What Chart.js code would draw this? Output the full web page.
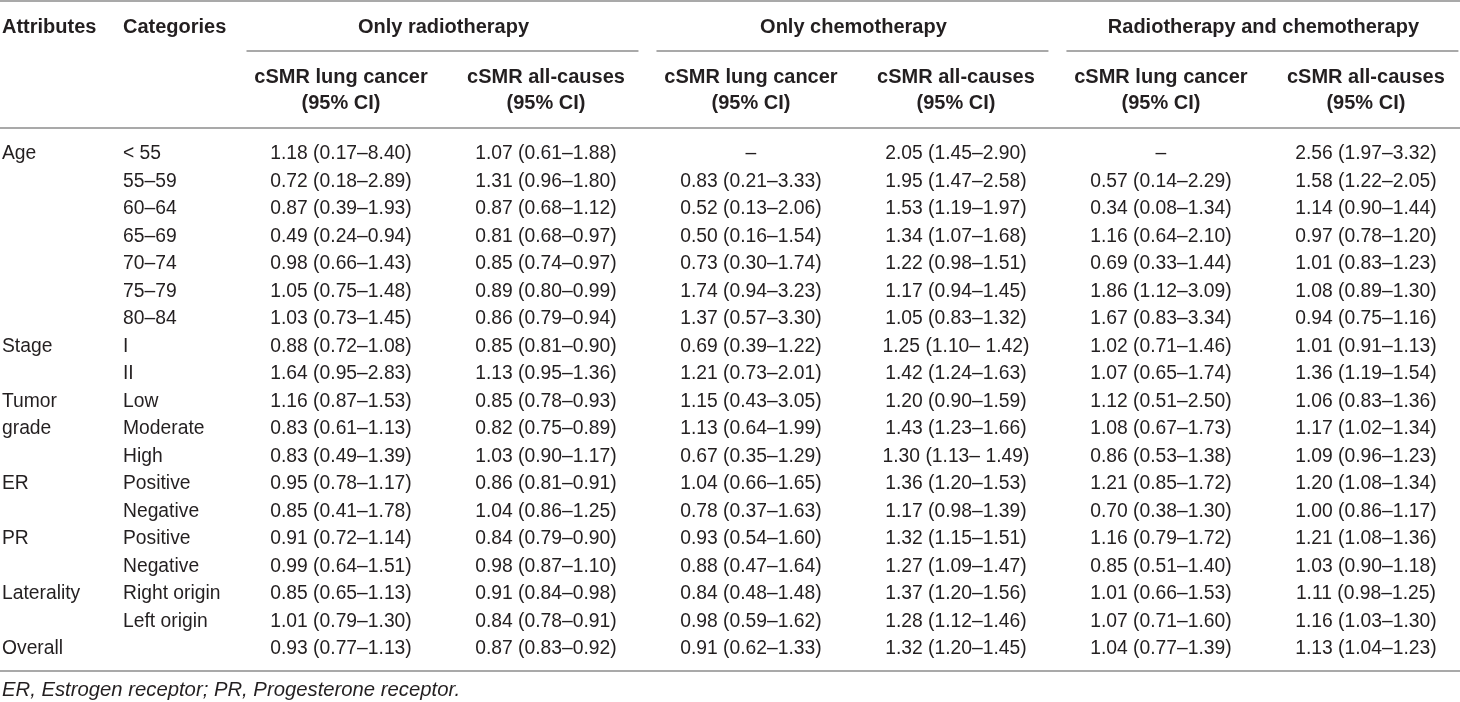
<!DOCTYPE html>
<html>
<head>
<meta charset="utf-8">
<script src="https://cdn.jsdelivr.net/npm/chart.js@4"></script>
<style>
  html, body { margin: 0; padding: 0; background: #fff; }
  #wrap { width: 1460px; height: 702px; }
</style>
</head>
<body>
<div id="wrap"><canvas id="tbl" width="1460" height="702"></canvas></div>
<script>
// table content
const attributes = ["Age", "", "", "", "", "", "", "Stage", "", "Tumor", "grade", "", "ER", "", "PR", "", "Laterality", "", "Overall"];
const categories = ["< 55", "55–59", "60–64", "65–69", "70–74", "75–79", "80–84", "I", "II", "Low", "Moderate", "High",
    "Positive", "Negative", "Positive", "Negative", "Right origin", "Left origin", ""];

const groups = ["Only radiotherapy", "Only chemotherapy", "Radiotherapy and chemotherapy"];
const subHeaders = ["cSMR lung cancer", "cSMR all-causes"];

const radioLung = ["1.18 (0.17–8.40)", "0.72 (0.18–2.89)", "0.87 (0.39–1.93)", "0.49 (0.24–0.94)", "0.98 (0.66–1.43)",
    "1.05 (0.75–1.48)", "1.03 (0.73–1.45)", "0.88 (0.72–1.08)", "1.64 (0.95–2.83)", "1.16 (0.87–1.53)",
    "0.83 (0.61–1.13)", "0.83 (0.49–1.39)", "0.95 (0.78–1.17)", "0.85 (0.41–1.78)", "0.91 (0.72–1.14)",
    "0.99 (0.64–1.51)", "0.85 (0.65–1.13)", "1.01 (0.79–1.30)", "0.93 (0.77–1.13)"];
const radioAll = ["1.07 (0.61–1.88)", "1.31 (0.96–1.80)", "0.87 (0.68–1.12)", "0.81 (0.68–0.97)", "0.85 (0.74–0.97)",
    "0.89 (0.80–0.99)", "0.86 (0.79–0.94)", "0.85 (0.81–0.90)", "1.13 (0.95–1.36)", "0.85 (0.78–0.93)",
    "0.82 (0.75–0.89)", "1.03 (0.90–1.17)", "0.86 (0.81–0.91)", "1.04 (0.86–1.25)", "0.84 (0.79–0.90)",
    "0.98 (0.87–1.10)", "0.91 (0.84–0.98)", "0.84 (0.78–0.91)", "0.87 (0.83–0.92)"];
const chemoLung = ["–", "0.83 (0.21–3.33)", "0.52 (0.13–2.06)", "0.50 (0.16–1.54)", "0.73 (0.30–1.74)",
    "1.74 (0.94–3.23)", "1.37 (0.57–3.30)", "0.69 (0.39–1.22)", "1.21 (0.73–2.01)", "1.15 (0.43–3.05)",
    "1.13 (0.64–1.99)", "0.67 (0.35–1.29)", "1.04 (0.66–1.65)", "0.78 (0.37–1.63)", "0.93 (0.54–1.60)",
    "0.88 (0.47–1.64)", "0.84 (0.48–1.48)", "0.98 (0.59–1.62)", "0.91 (0.62–1.33)"];
const chemoAll = ["2.05 (1.45–2.90)", "1.95 (1.47–2.58)", "1.53 (1.19–1.97)", "1.34 (1.07–1.68)", "1.22 (0.98–1.51)",
    "1.17 (0.94–1.45)", "1.05 (0.83–1.32)", "1.25 (1.10– 1.42)", "1.42 (1.24–1.63)", "1.20 (0.90–1.59)",
    "1.43 (1.23–1.66)", "1.30 (1.13– 1.49)", "1.36 (1.20–1.53)", "1.17 (0.98–1.39)", "1.32 (1.15–1.51)",
    "1.27 (1.09–1.47)", "1.37 (1.20–1.56)", "1.28 (1.12–1.46)", "1.32 (1.20–1.45)"];
const bothLung = ["–", "0.57 (0.14–2.29)", "0.34 (0.08–1.34)", "1.16 (0.64–2.10)", "0.69 (0.33–1.44)",
    "1.86 (1.12–3.09)", "1.67 (0.83–3.34)", "1.02 (0.71–1.46)", "1.07 (0.65–1.74)", "1.12 (0.51–2.50)",
    "1.08 (0.67–1.73)", "0.86 (0.53–1.38)", "1.21 (0.85–1.72)", "0.70 (0.38–1.30)", "1.16 (0.79–1.72)",
    "0.85 (0.51–1.40)", "1.01 (0.66–1.53)", "1.07 (0.71–1.60)", "1.04 (0.77–1.39)"];
const bothAll = ["2.56 (1.97–3.32)", "1.58 (1.22–2.05)", "1.14 (0.90–1.44)", "0.97 (0.78–1.20)", "1.01 (0.83–1.23)",
    "1.08 (0.89–1.30)", "0.94 (0.75–1.16)", "1.01 (0.91–1.13)", "1.36 (1.19–1.54)", "1.06 (0.83–1.36)",
    "1.17 (1.02–1.34)", "1.09 (0.96–1.23)", "1.20 (1.08–1.34)", "1.00 (0.86–1.17)", "1.21 (1.08–1.36)",
    "1.03 (0.90–1.18)", "1.11 (0.98–1.25)", "1.16 (1.03–1.30)", "1.13 (1.04–1.23)"];

const footnote = "ER, Estrogen receptor; PR, Progesterone receptor.";

const columns = [radioLung, radioAll, chemoLung, chemoAll, bothLung, bothAll];

const FONT = "'Liberation Sans', Arial, Helvetica, sans-serif";
const TEXT = "#231f20";
const RULE = "#8c8c8c";

// one invisible point per cell, text is painted at the point position
const datasets = columns.map((col, c) => ({
    label: "col" + c,
    data: col.map((txt, r) => ({ x: c, y: r })),
    pointRadius: 0,
    pointHoverRadius: 0,
    showLine: false
}));

const tablePlugin = {
    id: "tablePlugin",
    afterDatasetsDraw(chart) {
        const ctx = chart.ctx;
        const xs = chart.scales.x;
        const ys = chart.scales.y;
        const W = chart.width;

        ctx.save();
        ctx.fillStyle = TEXT;
        ctx.textBaseline = "middle";

        // cells
        ctx.font = "19.3px " + FONT;
        ctx.textAlign = "center";
        chart.data.datasets.forEach((ds, c) => {
            const meta = chart.getDatasetMeta(c);
            meta.data.forEach((pt, r) => {
                ctx.fillText(columns[c][r], pt.x, pt.y);
            });
        });

        // first two columns
        ctx.textAlign = "left";
        attributes.forEach((a, r) => {
            if (a) ctx.fillText(a, 2, ys.getPixelForValue(r));
        });
        categories.forEach((a, r) => {
            if (a) ctx.fillText(a, 123, ys.getPixelForValue(r));
        });

        // header
        ctx.font = "bold 20px " + FONT;
        ctx.fillText("Attributes", 2, 27);
        ctx.fillText("Categories", 123, 27);
        ctx.textAlign = "center";
        groups.forEach((g, i) => {
            ctx.fillText(g, xs.getPixelForValue(2 * i + 0.5), 27);
        });
        columns.forEach((col, c) => {
            const x = xs.getPixelForValue(c);
            ctx.fillText(subHeaders[c % 2], x, 77);
            ctx.fillText("(95% CI)", x, 103);
        });

        // rules
        ctx.strokeStyle = RULE;
        ctx.lineWidth = 1.5;
        const hline = (x0, x1, y) => {
            ctx.beginPath();
            ctx.moveTo(x0, y);
            ctx.lineTo(x1, y);
            ctx.stroke();
        };
        hline(0, W, 1);
        groups.forEach((g, i) => {
            const x0 = xs.getPixelForValue(2 * i - 0.5) + 8;
            const x1 = Math.min(W, xs.getPixelForValue(2 * i + 1.5) - 10);
            hline(x0, x1, 51);
        });
        hline(0, W, 128);
        hline(0, W, 671);

        // footnote
        ctx.fillStyle = TEXT;
        ctx.font = "italic 20.3px " + FONT;
        ctx.textAlign = "left";
        ctx.fillText(footnote, 2, 690);
        ctx.restore();
    }
};

new Chart(document.getElementById("tbl"), {
    type: "scatter",
    data: { datasets },
    options: {
        responsive: false,
        animation: false,
        devicePixelRatio: 1,
        layout: { padding: { left: 238.5, right: 0, top: 140.25, bottom: 39.25 } },
        plugins: { legend: { display: false }, tooltip: { enabled: false } },
        events: [],
        scales: {
            x: { type: "linear", min: -0.5, max: 5.459, display: false },
            y: { type: "linear", min: -0.5, max: 18.5, reverse: true, display: false }
        }
    },
    plugins: [tablePlugin]
});
</script>
</body>
</html>
